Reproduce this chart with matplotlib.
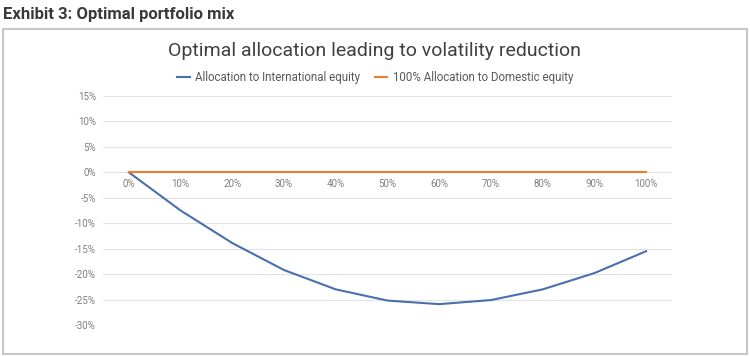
import matplotlib.pyplot as plt
from matplotlib.patches import Rectangle
from matplotlib.ticker import FuncFormatter

plt.rcParams["font.family"] = ["Roboto", "DejaVu Sans"]

allocations = ["0%", "10%", "20%", "30%", "40%", "50%", "60%", "70%", "80%", "90%", "100%"]
international = [0, -7.5, -13.9, -19.2, -23.0, -25.2, -25.9, -25.1, -23.0, -19.8, -15.5]
domestic = [0, 0, 0, 0, 0, 0, 0, 0, 0, 0, 0]

fig = plt.figure(figsize=(7.5, 3.56), dpi=100)

# outer frame of the exhibit
fig.patches.append(Rectangle((0.004, 0.0056), 0.992, 0.913, transform=fig.transFigure,
                             fill=False, edgecolor="#c8c8c8", linewidth=1.5))
fig.text(0.004, 0.959, "Exhibit 3: Optimal portfolio mix", fontsize=12,
         fontweight="bold", color="#3a3a3a", va="center", ha="left")
fig.text(0.499, 0.858, "Optimal allocation leading to volatility reduction",
         fontsize=14, color="#404040", ha="center", va="center")

ax = fig.add_axes([103 / 750, 1 - 325 / 356, 569 / 750, 229 / 356])
x = range(len(allocations))
ax.plot(x, international, color="#4a6fad", linewidth=1.5,
        label="Allocation to International equity")
ax.plot(x, domestic, color="#ED7D31", linewidth=1.5,
        label="100% Allocation to Domestic equity")

ax.set_xlim(-0.5, 10.5)
ax.set_ylim(-30, 15)
ax.set_yticks(range(-30, 16, 5))
ax.yaxis.set_major_formatter(FuncFormatter(lambda v, p: f"{v:.0f}%"))
ax.set_xticks(list(x))
ax.set_xticklabels(allocations)
ax.grid(axis="y", color="#e3e3e3", linewidth=0.8)
ax.set_axisbelow(True)
for s in ["top", "right", "left"]:
    ax.spines[s].set_visible(False)
ax.spines["bottom"].set_position(("data", 0))
ax.spines["bottom"].set_visible(False)
ax.tick_params(length=0, labelsize=7, labelcolor="#7f7f7f")
ax.tick_params(axis="y", pad=5)
ax.tick_params(axis="x", pad=5)

fig.legend(loc="center", bbox_to_anchor=(0.5, 0.783), ncol=2, frameon=False,
           fontsize=8.3, labelcolor="#595959", handlelength=1.1, handletextpad=0.45,
           columnspacing=1.3)

fig.savefig("out.png", dpi=100)
